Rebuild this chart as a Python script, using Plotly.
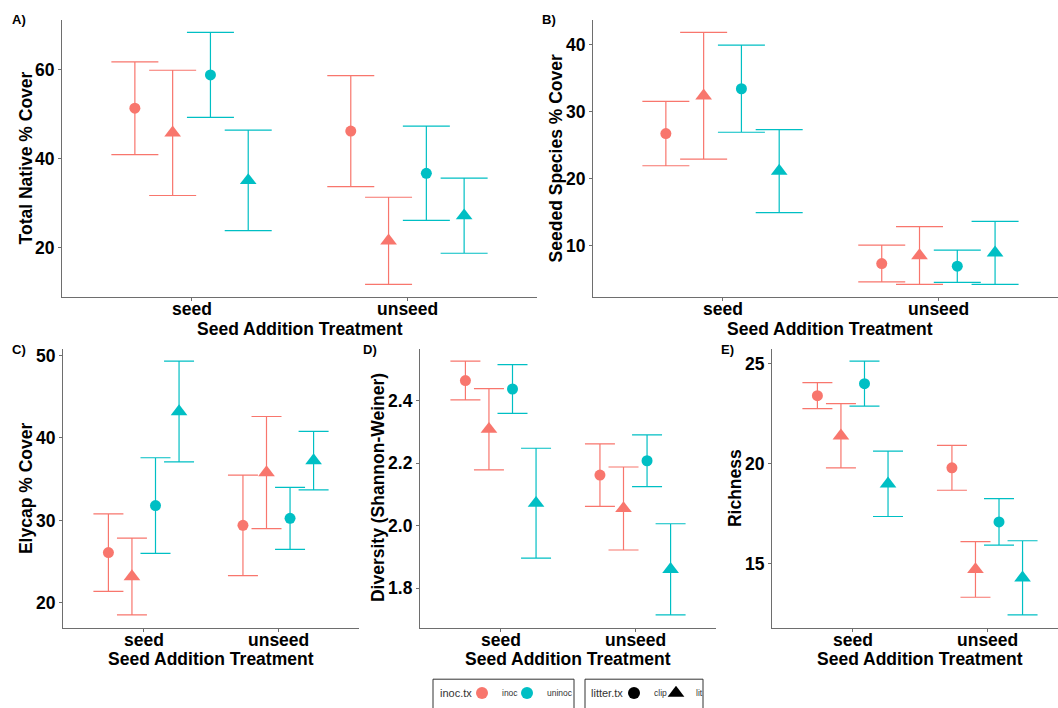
import plotly.graph_objects as go

W, H = 1058, 708
FONT = "Liberation Sans, Arial, sans-serif"
PINK = "#F8766D"
TEAL = "#00BFC4"

categories = ["seed", "unseed"]
# group order within each category: inoc-clip, inoc-lit, uninoc-clip, uninoc-lit
group_inoc = ["inoc", "inoc", "uninoc", "uninoc"]
group_litter = ["clip", "lit", "clip", "lit"]

# A) Total native % cover  (seed x4, then unseed x4)
native_mean = [51.35, 45.8, 58.85, 35.1, 46.2, 21.5, 36.7, 27.15]
native_se = [10.45, 14.1, 9.55, 11.3, 12.5, 9.8, 10.6, 8.45]
# B) Seeded species % cover
seeded_mean = [26.7, 32.35, 33.4, 21.1, 7.3, 8.5, 6.9, 8.9]
seeded_se = [4.8, 9.45, 6.5, 6.2, 2.75, 4.3, 2.4, 4.7]
# C) Elycap % cover
elycap_mean = [26.1, 23.2, 31.8, 43.2, 29.4, 35.8, 30.25, 37.25]
elycap_se = [4.7, 4.65, 5.8, 6.1, 6.1, 6.8, 3.75, 3.55]
# D) Diversity (Shannon-Weiner)
div_mean = [2.465, 2.309, 2.438, 2.072, 2.162, 2.055, 2.208, 1.860]
div_se = [0.062, 0.130, 0.078, 0.176, 0.100, 0.133, 0.083, 0.146]
# E) Richness
rich_mean = [23.4, 21.4, 24.0, 19.0, 19.8, 14.73, 17.1, 14.31]
rich_se = [0.65, 1.6, 1.12, 1.63, 1.12, 1.39, 1.16, 1.85]

dodge = [-0.2625, -0.0875, 0.0875, 0.2625]

panels = [
    dict(lab="A)", mean=native_mean, se=native_se, ytitle="Total Native % Cover",
         xpx=(62, 537), ypx=(17, 296), xr=(0.4, 2.6), cap=23.5,
         dtick=20, lab_xy=(19, 17), yt_x=26),
    dict(lab="B)", mean=seeded_mean, se=seeded_se, ytitle="Seeded Species % Cover",
         xpx=(593, 1058), ypx=(17, 296), xr=(0.4, 2.554), cap=23.5,
         dtick=10, lab_xy=(549, 17), yt_x=556),
    dict(lab="C)", mean=elycap_mean, se=elycap_se, ytitle="Elycap % Cover",
         xpx=(63, 359), ypx=(348, 629), xr=(0.4, 2.6), cap=15,
         dtick=10, lab_xy=(19, 349), yt_x=26),
    dict(lab="D)", mean=div_mean, se=div_se, ytitle="Diversity (Shannon-Weiner)",
         xpx=(420, 716), ypx=(348, 629), xr=(0.4, 2.6), cap=15,
         dtick=0.2, lab_xy=(370, 349), yt_x=378),
    dict(lab="E)", mean=rich_mean, se=rich_se, ytitle="Richness",
         xpx=(772, 1058), ypx=(348, 629), xr=(0.4, 2.526), cap=15,
         dtick=5, lab_xy=(727, 349), yt_x=735),
]

fig = go.Figure()
annotations = []
shapes = []
layout = {}

for i, p in enumerate(panels):
    k = "" if i == 0 else str(i + 1)
    xa, ya = "x" + k, "y" + k
    for gi in range(4):
        color = PINK if group_inoc[gi] == "inoc" else TEAL
        symbol = "circle" if group_litter[gi] == "clip" else "triangle-up"
        size = 11 if symbol == "circle" else 14.5
        xs, ys, es = [], [], []
        for ci, cat in enumerate(categories):
            idx = ci * 4 + gi
            xs.append(ci + 1 + dodge[gi])
            ys.append(p["mean"][idx])
            es.append(p["se"][idx])
        fig.add_trace(go.Scatter(
            x=xs, y=ys, mode="markers", xaxis=xa, yaxis=ya, showlegend=False,
            marker=dict(color=color, symbol=symbol, size=size, line=dict(width=0)),
            error_y=dict(type="data", array=es, symmetric=True, color=color,
                         thickness=1.2, width=p["cap"]),
            hoverinfo="skip"))
    lo = min(m - s for m, s in zip(p["mean"], p["se"]))
    hi = max(m + s for m, s in zip(p["mean"], p["se"]))
    pad = 0.05 * (hi - lo)
    axcommon = dict(showgrid=False, zeroline=False, showline=True,
                    linecolor="#6e6e6e", linewidth=1.2, ticks="outside",
                    ticklen=3, tickcolor="#6e6e6e", tickwidth=1,
                    tickfont=dict(family=FONT, size=17.5, color="black", weight="bold"))
    layout["xaxis" + k] = dict(
        axcommon, domain=[p["xpx"][0] / W, p["xpx"][1] / W], range=list(p["xr"]),
        tickmode="array", tickvals=[1, 2], ticktext=categories, anchor=ya,
        showticklabels=False)
    layout["yaxis" + k] = dict(
        axcommon, domain=[1 - p["ypx"][1] / H, 1 - p["ypx"][0] / H],
        range=[lo - pad, hi + pad], dtick=p["dtick"], anchor=xa,
        tickformat=".1f" if p["dtick"] < 1 else None)
    # x tick labels
    for ci, cat in enumerate(categories):
        annotations.append(dict(text="<b>" + cat + "</b>", x=ci + 1, xref=xa,
                                y=1 - (p["ypx"][1] + 12.5) / H, yref="paper",
                                showarrow=False, xanchor="center", yanchor="middle",
                                font=dict(family=FONT, size=17.5, color="black")))
    # panel label
    annotations.append(dict(text="<b>" + p["lab"] + "</b>", x=p["lab_xy"][0] / W,
                            y=1 - p["lab_xy"][1] / H, xref="paper", yref="paper",
                            showarrow=False, font=dict(family=FONT, size=13, color="black"),
                            xanchor="center", yanchor="middle"))
    # y title
    annotations.append(dict(text="<b>" + p["ytitle"] + "</b>", x=p["yt_x"] / W,
                            y=1 - (p["ypx"][0] + p["ypx"][1]) / 2 / H,
                            xref="paper", yref="paper", showarrow=False, textangle=-90,
                            font=dict(family=FONT, size=17.5, color="black"),
                            xanchor="center", yanchor="middle"))
    # x title
    xc = (p["xpx"][0] + p["xpx"][0] + (2.2 / (p["xr"][1] - p["xr"][0])) * (p["xpx"][1] - p["xpx"][0])) / 2
    annotations.append(dict(text="<b>Seed Addition Treatment</b>", x=xc / W,
                            y=1 - (p["ypx"][1] + 32) / H,
                            xref="paper", yref="paper", showarrow=False,
                            font=dict(family=FONT, size=17.5, color="black"),
                            xanchor="center", yanchor="middle"))

# ---- legends: two boxed keys (inoc.tx colour, litter.tx shape) ----
LEG_Y = 695
legend_items = [
    # name, colour, symbol, size, legend id, symbol centre px
    ("inoc", PINK, "circle", 12, "legend", 482),
    ("uninoc", TEAL, "circle", 12, "legend2", 527),
    ("clip", "black", "circle", 12, "legend3", 634),
    ("lit", "black", "triangle-up", 14.5, "legend4", 676),
]
for name, col, sym, sz, lid, cx in legend_items:
    fig.add_trace(go.Scatter(x=[None], y=[None], mode="markers", name=name, legend=lid,
                             marker=dict(color=col, symbol=sym, size=sz)))
    layout[lid] = dict(orientation="h", xanchor="left", yanchor="middle",
                       x=(cx - 20) / W, y=1 - LEG_Y / H, borderwidth=0,
                       bgcolor="rgba(0,0,0,0)",
                       font=dict(family=FONT, size=8.5, color="#333333"))

for (x0, x1) in [(433, 574), (585, 703)]:
    shapes.append(dict(type="rect", xref="paper", yref="paper",
                       x0=x0 / W, x1=x1 / W, y0=1 - 712 / H, y1=1 - 681 / H,
                       line=dict(color="#333333", width=1), fillcolor="rgba(0,0,0,0)"))
for txt, x0 in [("inoc.tx", 438), ("litter.tx", 589)]:
    annotations.append(dict(text=txt, x=x0 / W, y=1 - LEG_Y / H, xref="paper", yref="paper",
                            showarrow=False, xanchor="left", yanchor="middle",
                            font=dict(family=FONT, size=11, color="#333333")))

fig.update_layout(width=W, height=H, margin=dict(l=0, r=0, t=0, b=0),
                  paper_bgcolor="white", plot_bgcolor="white",
                  annotations=annotations, shapes=shapes,
                  font=dict(family=FONT), **layout)
fig.write_html("out.html")
